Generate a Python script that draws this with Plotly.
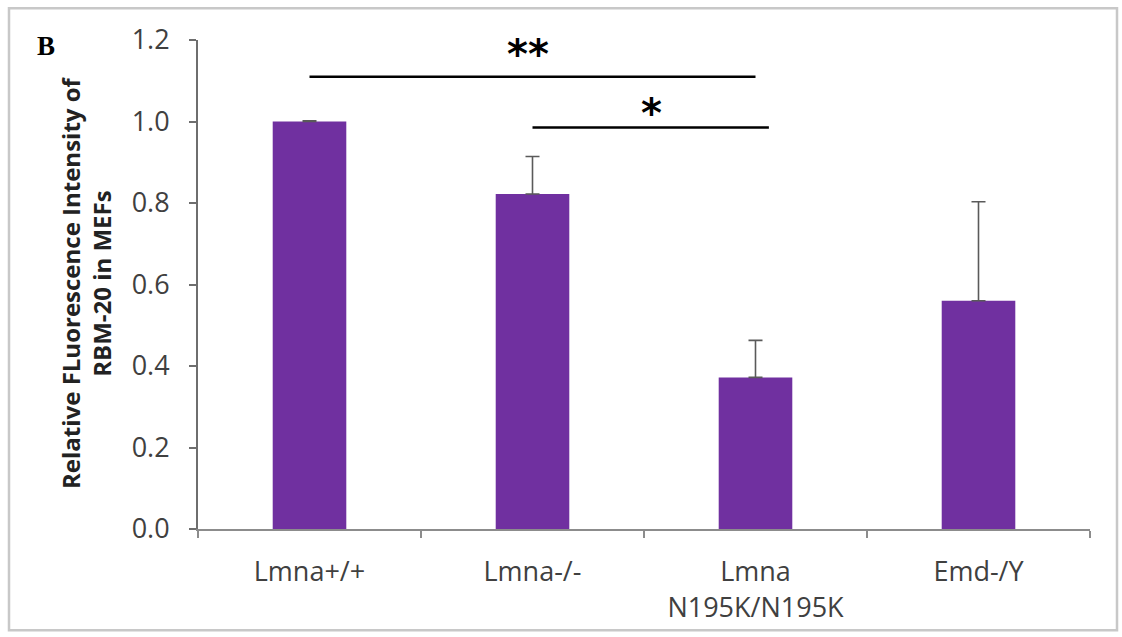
import plotly.graph_objects as go

categories = ["Lmna+/+", "Lmna-/-", "Lmna<br>N195K/N195K", "Emd-/Y"]
values = [1.0, 0.822, 0.372, 0.56]
errors = [0.002, 0.092, 0.091, 0.243]

y_ticks = [0.0, 0.2, 0.4, 0.6, 0.8, 1.0, 1.2]
y_tick_text = ["0.0", "0.2", "0.4", "0.6", "0.8", "1.0", "1.2"]

# significance brackets: (start category index, end category index, y value, label, label x, label y)
sig_x0 = [0.0, 1.0]
sig_x1 = [2.0, 2.06]
sig_y = [1.11, 0.985]
sig_labels = ["**", "*"]
sig_label_x = [0.98, 1.535]
sig_label_y = [1.165, 1.02]

BAR = "#7030A0"
TXT = "#404040"
FONT = "Open Sans"

W, H = 1122, 637
L, R, T, B = 198, 32, 40, 104
pw, ph = W - L - R, H - T - B


def px_x(x):
    return (x - L) / pw


def px_y(y):
    return 1 - (y - T) / ph


fig = go.Figure()
fig.add_trace(go.Bar(
    x=list(range(len(categories))),
    y=values,
    width=0.33,
    marker=dict(color=BAR, line=dict(width=0)),
    error_y=dict(type="data", array=errors, symmetric=False, arrayminus=[0]*len(errors),
                 color="#5a5a5a", thickness=1.6, width=7),
    showlegend=False,
))

for x0, x1, y in zip(sig_x0, sig_x1, sig_y):
    fig.add_shape(type="line", xref="x", yref="y", x0=x0, x1=x1, y0=y, y1=y,
                  line=dict(color="black", width=2.5))
for lab, lx, ly in zip(sig_labels, sig_label_x, sig_label_y):
    fig.add_annotation(x=lx, y=ly, xref="x", yref="y", text="<b>" + lab + "</b>", showarrow=False,
                       font=dict(family="DejaVu Sans", size=40, color="black"),
                       yanchor="middle", xanchor="center")

# panel label
fig.add_annotation(x=px_x(46), y=px_y(46), xref="paper", yref="paper", text="<b>B</b>",
                   showarrow=False, xanchor="center", yanchor="middle",
                   font=dict(family="Liberation Serif", size=27, color="black"))

# y axis title
fig.add_annotation(x=px_x(86), y=px_y(285), xref="paper", yref="paper",
                   text="<b>Relative FLuorescence Intensity of<br>RBM-20 in MEFs</b>",
                   textangle=-90, showarrow=False, align="center",
                   xanchor="center", yanchor="middle",
                   font=dict(family=FONT, size=24, color="#222222"))

# outer frame
fig.add_shape(type="rect", xref="paper", yref="paper",
              x0=px_x(9), x1=px_x(1117), y0=px_y(635), y1=px_y(8),
              line=dict(color="#c8c8c8", width=2.5), layer="below")

fig.update_layout(
    width=W, height=H,
    margin=dict(l=L, r=R, t=T, b=B, pad=0),
    paper_bgcolor="white", plot_bgcolor="white",
    xaxis=dict(
        range=[-0.5, 3.5],
        tickmode="array", tickvals=list(range(len(categories))), ticktext=categories,
        showline=True, linecolor="#8c8c8c", linewidth=2,
        ticks="", showgrid=False, zeroline=False,
        tickfont=dict(family=FONT, size=27, color=TXT),
        ticklabelstandoff=18,
        minor=dict(tickvals=[-0.5, 0.5, 1.5, 2.5, 3.5], ticks="outside", ticklen=7,
                   tickcolor="#8c8c8c", tickwidth=2),
    ),
    yaxis=dict(
        range=[0, 1.2],
        tickmode="array", tickvals=y_ticks, ticktext=y_tick_text,
        showline=True, linecolor="#6e6e6e", linewidth=2,
        ticks="outside", ticklen=7, tickcolor="#6e6e6e", tickwidth=2,
        showgrid=False, zeroline=False,
        tickfont=dict(family=FONT, size=27, color=TXT),
        ticklabelstandoff=14,
    ),
)

fig.write_html("out.html")
